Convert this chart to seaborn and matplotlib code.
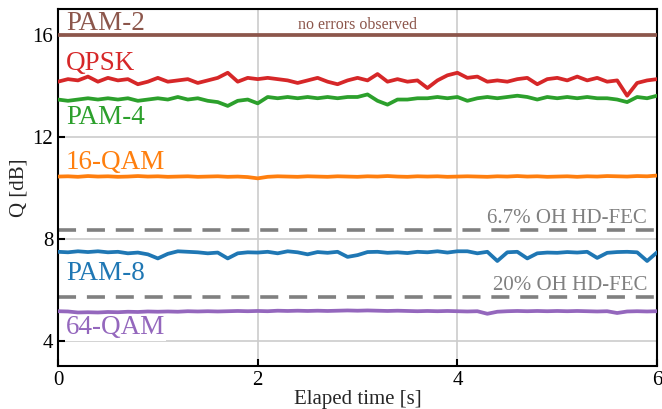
import numpy as np
import pandas as pd
import matplotlib
matplotlib.use("Agg")
import matplotlib.pyplot as plt
import seaborn as sns

# time axis (s)
t = np.round(np.arange(0, 6.01, 0.1), 2)

# Q factor traces (dB) at 0.1 s steps
qpsk = [14.15, 14.25, 14.2, 14.35, 14.15, 14.3, 14.2, 14.25, 14.05, 14.15,
        14.3, 14.15, 14.2, 14.25, 14.1, 14.2, 14.3, 14.5, 14.15, 14.3,
        14.25, 14.3, 14.25, 14.2, 14.1, 14.2, 14.3, 14.15, 14.05, 14.2,
        14.3, 14.2, 14.45, 14.15, 14.25, 14.15, 14.2, 13.9, 14.2, 14.4,
        14.5, 14.3, 14.35, 14.15, 14.2, 14.15, 14.25, 14.3, 14.05, 14.25,
        14.3, 14.2, 14.35, 14.2, 14.3, 14.15, 14.2, 13.6, 14.1, 14.2, 14.25]
pam4 = [13.45, 13.4, 13.45, 13.5, 13.45, 13.5, 13.45, 13.5, 13.4, 13.45,
        13.5, 13.45, 13.55, 13.45, 13.5, 13.4, 13.35, 13.2, 13.4, 13.45,
        13.3, 13.55, 13.5, 13.55, 13.5, 13.55, 13.5, 13.55, 13.5, 13.55,
        13.55, 13.65, 13.4, 13.25, 13.45, 13.45, 13.5, 13.5, 13.55, 13.5,
        13.55, 13.4, 13.5, 13.55, 13.5, 13.55, 13.6, 13.55, 13.45, 13.55,
        13.5, 13.55, 13.5, 13.55, 13.5, 13.5, 13.45, 13.35, 13.55, 13.5, 13.6]
qam16 = [10.43, 10.44, 10.42, 10.45, 10.43, 10.44, 10.42, 10.43, 10.45, 10.43,
         10.44, 10.42, 10.43, 10.44, 10.42, 10.43, 10.44, 10.42, 10.43, 10.41,
         10.36, 10.42, 10.44, 10.43, 10.42, 10.44, 10.43, 10.42, 10.44, 10.43,
         10.42, 10.44, 10.43, 10.45, 10.43, 10.42, 10.44, 10.43, 10.44, 10.42,
         10.43, 10.44, 10.43, 10.42, 10.44, 10.43, 10.45, 10.43, 10.44, 10.42,
         10.43, 10.44, 10.42, 10.44, 10.43, 10.45, 10.44, 10.43, 10.45, 10.44, 10.47]
pam8 = [7.48, 7.46, 7.5, 7.47, 7.5, 7.46, 7.48, 7.42, 7.45, 7.38,
        7.22, 7.4, 7.5, 7.48, 7.46, 7.42, 7.45, 7.22, 7.42, 7.46,
        7.45, 7.48, 7.42, 7.5, 7.46, 7.38, 7.47, 7.44, 7.48, 7.28,
        7.35, 7.47, 7.48, 7.44, 7.46, 7.43, 7.48, 7.46, 7.5, 7.45,
        7.5, 7.5, 7.42, 7.48, 7.12, 7.46, 7.48, 7.22, 7.42, 7.45,
        7.44, 7.47, 7.45, 7.48, 7.24, 7.44, 7.47, 7.48, 7.46, 7.12, 7.46]
qam64 = [5.15, 5.14, 5.1, 5.11, 5.1, 5.12, 5.11, 5.13, 5.12, 5.14,
         5.13, 5.14, 5.13, 5.15, 5.14, 5.15, 5.14, 5.15, 5.16, 5.15,
         5.16, 5.15, 5.17, 5.16, 5.17, 5.16, 5.17, 5.16, 5.17, 5.18,
         5.17, 5.18, 5.17, 5.16, 5.17, 5.16, 5.15, 5.16, 5.15, 5.16,
         5.15, 5.14, 5.15, 5.05, 5.13, 5.15, 5.16, 5.15, 5.16, 5.15,
         5.16, 5.15, 5.16, 5.15, 5.14, 5.15, 5.08, 5.14, 5.15, 5.14, 5.15]
pam2 = [16.0] * len(t)

fec_levels = [8.35, 5.7]
fec_labels = ["6.7% OH HD-FEC", "20% OH HD-FEC"]

series_names = ["PAM-2", "QPSK", "PAM-4", "16-QAM", "PAM-8", "64-QAM"]
series_data = [pam2, qpsk, pam4, qam16, pam8, qam64]
colors = ["#8c564b", "#d62728", "#2ca02c", "#ff7f0e", "#1f77b4", "#9467bd"]
label_y = [16.45, 14.85, 12.75, 11.0, 6.62, 4.5]

sns.set_style("whitegrid")
plt.rcParams["font.family"] = ["Liberation Serif", "DejaVu Serif"]

fig = plt.figure(figsize=(6.62, 4.09), dpi=100)
ax = fig.add_axes([0.0876, 0.105, 0.905, 0.873])

df = pd.DataFrame({"t": np.tile(t, len(series_names)),
                   "Q": np.concatenate(series_data),
                   "mod": np.repeat(series_names, len(t))})
sns.lineplot(data=df, x="t", y="Q", hue="mod", palette=dict(zip(series_names, colors)),
             linewidth=2.7, legend=False, ax=ax, zorder=3)

for lvl, lab in zip(fec_levels, fec_labels):
    ax.axhline(lvl, color="#808080", linewidth=2.6, linestyle=(0, (5, 3)), zorder=2)
    ax.text(5.9, lvl + 0.08, lab, color="#808080", fontsize=15,
            ha="right", va="bottom", zorder=2.5)

# labels sit behind the traces but cover the grid
for name, c, ly in zip(series_names, colors, label_y):
    ax.text(0.08, ly, name, color=c, fontsize=19.5, ha="left", va="center", zorder=1.5,
            bbox=dict(facecolor="white", edgecolor="none", pad=0.3))

ax.text(3.0, 16.05, "no errors observed", color="#8c564b", fontsize=11.5,
        ha="center", va="bottom", zorder=2.5)

ax.set_xlim(0, 6)
ax.set_ylim(3, 17)
ax.set_xticks([0, 2, 4, 6])
ax.set_yticks([4, 8, 12, 16])
ax.grid(True, color="#cccccc", linewidth=1.2, zorder=0.5)
ax.set_axisbelow(True)
for s in ax.spines.values():
    s.set_color("black")
    s.set_linewidth(1.5)
ax.tick_params(direction="in", length=5, width=1.5, labelsize=15, colors="black",
               bottom=True, left=True)
ax.set_xlabel("Elaped time [s]", fontsize=15, labelpad=0)
ax.set_ylabel("Q [dB]", fontsize=15, labelpad=3)

fig.savefig("out.png", dpi=100)
